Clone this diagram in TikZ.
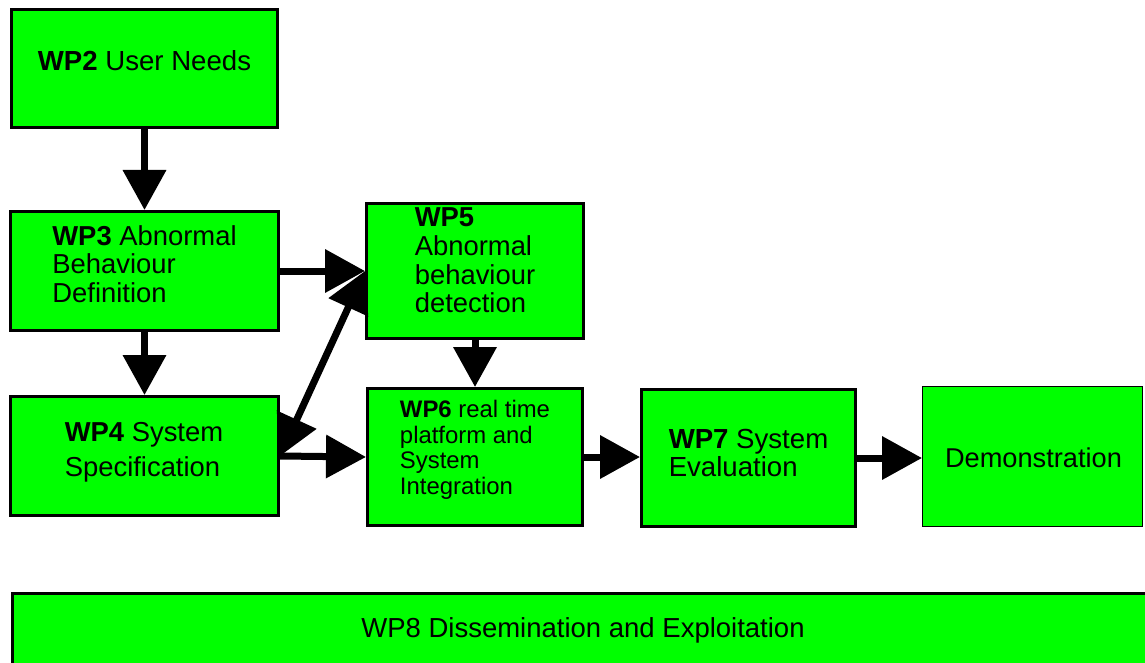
\documentclass[tikz,border=0pt]{standalone}
\usepackage{fontspec}
\setmainfont{Liberation Sans}
\usetikzlibrary{arrows.meta}
\definecolor{wpgreen}{RGB}{0,255,0}
\newcommand{\wpfont}[2]{\fontsize{#1pt}{#2pt}\selectfont}
\begin{document}
\begin{tikzpicture}[x=1pt,y=-1pt,
  wp/.style={draw,line width=3pt,fill=wpgreen,inner sep=0pt},
  txt/.style={align=left,inner sep=0pt},
  head/.style={Triangle[length=40pt,width=42pt]},
  flow/.style={line width=7pt,-{Triangle[length=40pt,width=42pt]}},
  both/.style={line width=7pt,{Triangle[length=40pt,width=42pt]}-{Triangle[length=40pt,width=42pt]}}]
\useasboundingbox (0,0) rectangle (1145,663);
\node[wp,minimum width=266pt,minimum height=118pt] (wp2) at (144.5,68.5) {};
\node[wp,minimum width=268pt,minimum height=119pt] (wp3) at (144.5,271) {};
\node[wp,minimum width=268pt,minimum height=119pt] (wp4) at (144.5,456) {};
\node[wp,minimum width=217pt,minimum height=135pt] (wp5) at (475,271) {};
\node[wp,minimum width=215pt,minimum height=137pt] (wp6) at (475,457) {};
\node[wp,minimum width=214pt,minimum height=137pt] (wp7) at (748.5,458) {};
\node[draw,line width=1pt,fill=wpgreen,minimum width=220pt,minimum height=140pt] (demo) at (1032.5,456.5) {};
\node[wp,minimum width=1138pt,minimum height=77pt] (wp8) at (581,631.5) {};
\node[txt,font=\wpfont{27.6}{28}] (t2) at (144.5,61) {\textbf{WP2} User Needs};
\node[txt,font=\wpfont{27.4}{28.5}] (t3) at (144.5,264) {\textbf{WP3} Abnormal\\Behaviour\\Definition};
\node[txt,font=\wpfont{27.4}{35}] (t4) at (144,452.5) {\textbf{WP4} System\\Specification};
\node[txt,font=\wpfont{27.4}{28.7}] (t5) at (475,260.5) {\textbf{WP5}\\Abnormal\\behaviour\\detection};
\node[txt,font=\wpfont{23.9}{25.5}] (t6) at (475,450) {\textbf{WP6} real time\\platform and\\System\\Integration};
\node[txt,font=\wpfont{27.6}{28}] (t7) at (748.5,452.5) {\textbf{WP7} System\\Evaluation};
\node[txt,font=\wpfont{27.2}{28}] (td) at (1033.5,457.5) {Demonstration};
\node[txt,font=\wpfont{27.5}{28}] (t8) at (583,630) {WP8 Dissemination and Exploitation};
\draw[flow] (wp2.south) -- (wp3.north);
\draw[flow] (wp3.south) -- (wp4.north);
\draw[flow] (wp3.east) -- (wp5.west);
\draw[both] (wp4.east) -- (wp5.west);
\draw[flow] (wp4.east) -- (wp6.west);
\draw[flow] (wp5.south) -- (wp6.north);
\draw[flow] (wp6.east) -- (wp6.east -| wp7.west);
\draw[flow] (wp7.east) -- (wp7.east -| demo.west);
\end{tikzpicture}
\end{document}
